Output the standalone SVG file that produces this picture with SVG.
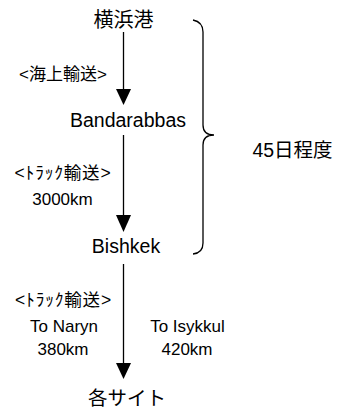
<svg xmlns="http://www.w3.org/2000/svg" width="339" height="410" viewBox="0 0 339 410">
<defs>
<style>
text{font-family:"Liberation Sans","Noto Sans CJK JP",sans-serif;fill:#000;text-anchor:middle}
.node{font-size:19.5px}
.lbl{font-size:17px}
.truck{font-size:17.5px;letter-spacing:0.8px}
.line{stroke:#000;stroke-width:1.3;fill:none}
.head{fill:#000}
</style>
</defs>
<rect width="339" height="410" fill="#fff"/>
<g id="connectors">
<line class="line" x1="123.5" y1="32" x2="123.5" y2="90"/>
<polygon class="head" points="116,89 131,89 123.5,105"/>
<line class="line" x1="123.5" y1="135" x2="123.5" y2="216"/>
<polygon class="head" points="116,215 131,215 123.5,232"/>
<line class="line" x1="123.5" y1="264" x2="123.5" y2="364"/>
<polygon class="head" points="116,363 131,363 123.5,379"/>
<text class="lbl" x="63" y="80">&lt;海上輸送&gt;</text>
<text class="lbl truck" x="63" y="179">&lt;ﾄﾗｯｸ輸送&gt;</text>
<text class="lbl" x="62.5" y="205">3000km</text>
<text class="lbl truck" x="63.5" y="306">&lt;ﾄﾗｯｸ輸送&gt;</text>
<text class="lbl" x="64" y="332">To Naryn</text>
<text class="lbl" x="63" y="355">380km</text>
<text class="lbl" x="187.5" y="332">To Isykkul</text>
<text class="lbl" x="187" y="355">420km</text>
</g>
<g id="node-yokohama"><text class="node" x="123.5" y="26.5" style="font-size:20px">横浜港</text></g>
<g id="node-bandarabbas"><text class="node" x="128" y="126.5">Bandarabbas</text></g>
<g id="node-bishkek"><text class="node" x="126" y="253">Bishkek</text></g>
<g id="node-sites"><text class="node" x="127" y="405">各サイト</text></g>
<g id="brace">
<path class="line" d="M193,20 Q203,22 203,32 L203,125 Q203,135 214,135 Q203,135 203,145 L203,243 Q203,253 193,254"/>
<text class="node" x="292.5" y="157">45日程度</text>
</g>
</svg>
